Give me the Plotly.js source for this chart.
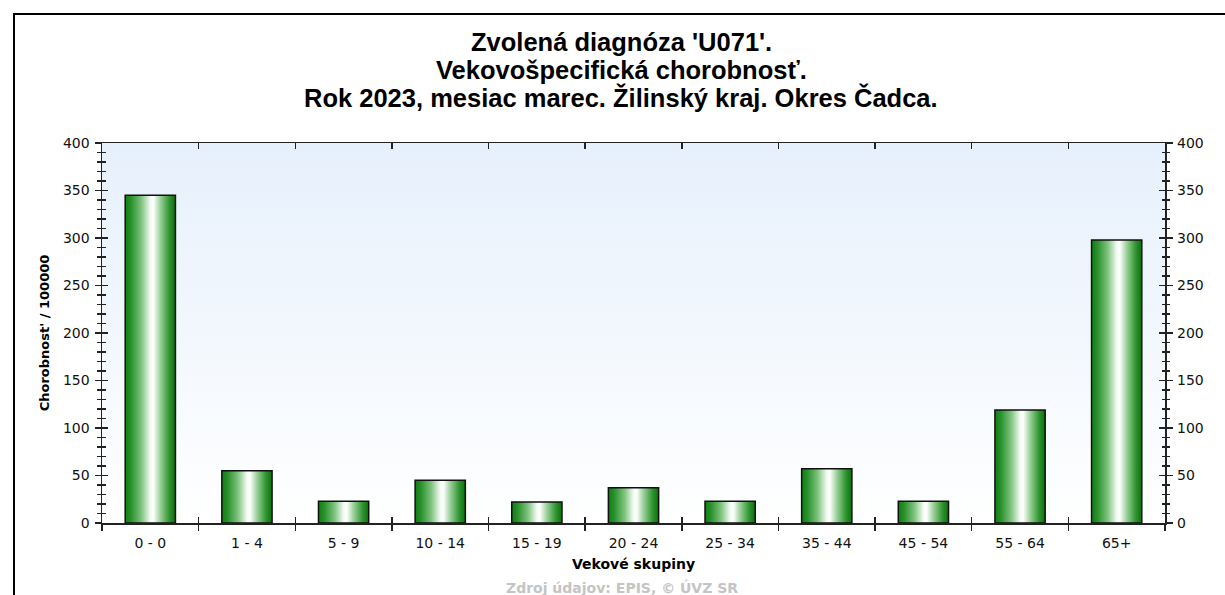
<!DOCTYPE html>
<html>
<head>
<meta charset="utf-8">
<script src="https://cdn.plot.ly/plotly-3.0.1.min.js"></script>
<style>
  html, body { margin: 0; padding: 0; background: #fff; }
  #wrap { position: relative; width: 1225px; height: 595px; overflow: hidden; }
  #frame { position: absolute; left: 13px; top: 13px; width: 1300px; height: 700px;
           border-left: 2px solid #000; border-top: 2px solid #000; pointer-events: none; z-index: 5; }
  #chart { position: absolute; left: 0; top: 0; width: 1225px; height: 595px; }
</style>
</head>
<body>
<div id="wrap">
  <div id="chart"></div>
  <div id="frame"></div>
</div>
<script>
const categories = ['0 - 0', '1 - 4', '5 - 9', '10 - 14', '15 - 19', '20 - 24', '25 - 34', '35 - 44', '45 - 54', '55 - 64', '65+'];
const values = [345, 55, 23, 45, 22, 37, 23, 57, 23, 119, 298];
const titleLines = ["Zvolená diagnóza 'U071'.", "Vekovošpecifická chorobnosť.", "Rok 2023, mesiac marec. Žilinský kraj. Okres Čadca."];
const yTitle = "Chorobnost' / 100000";
const xTitle = "Vekové skupiny";
const footer = "Zdroj údajov: EPIS, © ÚVZ SR";

const TFONT = 'Arial, "Liberation Sans", sans-serif';
const AFONT = '"DejaVu Sans", Verdana, sans-serif';
const AX = '#222';

const W = 1225, H = 595;
const M = { l: 102, r: 60, t: 143, b: 72 };
const plotH = H - M.t - M.b;
const plotW = W - M.l - M.r;
// pixel helpers for text placement (layout only)
const px2paperY = py => (H - M.b - py) / plotH;
const px2paperX = px => (px - M.l) / plotW;

const nCat = categories.length;
const boundaries = categories.slice(1).map((c, i) => i + 0.5);

const trace = {
  type: 'bar',
  x: categories,
  y: values,
  marker: { color: '#2a922a', line: { color: '#111', width: 1.5 } },
  hoverinfo: 'x+y',
  showlegend: false
};

const yCommon = {
  range: [0, 400],
  dtick: 50,
  showgrid: false,
  zeroline: false,
  fixedrange: true
};

const titleY = [42, 70, 98];
const annotations = titleLines.map((t, i) => ({
  text: '<b>' + t + '</b>',
  xref: 'paper', yref: 'paper',
  x: px2paperX(621), y: px2paperY(titleY[i]),
  xanchor: 'center', yanchor: 'middle',
  showarrow: false,
  font: { family: TFONT, size: 25.5, color: '#000' }
}));
annotations.push({
  text: '<b>' + footer + '</b>',
  xref: 'paper', yref: 'paper',
  x: px2paperX(622), y: px2paperY(577),
  xanchor: 'center', yanchor: 'top',
  showarrow: false,
  font: { family: AFONT, size: 14, color: '#c4c4c4' }
});

const layout = {
  width: W,
  height: H,
  margin: M,
  paper_bgcolor: '#ffffff',
  plot_bgcolor: '#eef5fd',
  bargap: 0.48,
  showlegend: false,
  font: { family: AFONT, size: 14, color: '#111' },
  xaxis: {
    type: 'category',
    range: [-0.5, nCat - 0.5],
    tickson: 'boundaries',
    ticks: 'outside', ticklen: 6, tickwidth: 1.5, tickcolor: AX,
    showline: true, linecolor: AX, linewidth: 1.5, mirror: true,
    showgrid: false, zeroline: false,
    tickfont: { family: AFONT, size: 14, color: '#111' },
    ticklabelstandoff: 7,
    title: { text: '<b>' + xTitle + '</b>', font: { family: AFONT, size: 14, color: '#000' }, standoff: 9 },
    fixedrange: true
  },
  xaxis2: {
    type: 'linear', overlaying: 'x', anchor: 'y',
    range: [-0.5, nCat - 0.5],
    tickmode: 'array', tickvals: boundaries,
    ticks: 'inside', ticklen: 6, tickwidth: 1.5, tickcolor: AX,
    mirror: 'ticks', showline: false, showticklabels: false,
    showgrid: false, zeroline: false, fixedrange: true
  },
  yaxis: Object.assign({}, yCommon, {
    side: 'left',
    ticks: 'outside', ticklen: 6, tickwidth: 1.5, tickcolor: AX,
    minor: { dtick: 10, ticks: 'outside', ticklen: 3.5, tickwidth: 1.5, tickcolor: AX, showgrid: false },
    showline: true, linecolor: AX, linewidth: 1.5, mirror: 'ticks',
    tickfont: { family: AFONT, size: 14, color: '#111' },
    ticklabelstandoff: 2,
    title: { text: '<b>' + yTitle + '</b>', font: { family: AFONT, size: 13, color: '#000' }, standoff: 10 }
  }),
  yaxis3: Object.assign({}, yCommon, {
    overlaying: 'y', side: 'left', anchor: 'x',
    ticks: 'inside', ticklen: 6, tickwidth: 1.5, tickcolor: AX,
    minor: { dtick: 10, ticks: 'inside', ticklen: 3.5, tickwidth: 1.5, tickcolor: AX, showgrid: false },
    mirror: 'ticks', showline: false, showticklabels: false
  }),
  yaxis2: Object.assign({}, yCommon, {
    overlaying: 'y', side: 'right', anchor: 'x',
    ticks: '', showline: false,
    tickfont: { family: AFONT, size: 14, color: '#111' },
    ticklabelstandoff: 11
  }),
  annotations: annotations
};

// invisible helper traces (no markers) so the overlay axes render
const dummyX2 = { type: 'scatter', x: [0], y: [0], xaxis: 'x2', yaxis: 'y', mode: 'lines', hoverinfo: 'skip', showlegend: false };
const dummyY2 = { type: 'scatter', x: [categories[0]], y: [0], xaxis: 'x', yaxis: 'y2', mode: 'lines', hoverinfo: 'skip', showlegend: false };
const dummyY3 = { type: 'scatter', x: [categories[0]], y: [0], xaxis: 'x', yaxis: 'y3', mode: 'lines', hoverinfo: 'skip', showlegend: false };

function addGradients(gd) {
  const svg = gd.querySelector('svg.main-svg');
  if (!svg) return;
  const NS = 'http://www.w3.org/2000/svg';
  let defs = svg.querySelector('defs');
  if (!defs) { defs = document.createElementNS(NS, 'defs'); svg.insertBefore(defs, svg.firstChild); }
  function grad(id, horiz, stops) {
    const g = document.createElementNS(NS, 'linearGradient');
    g.setAttribute('id', id);
    g.setAttribute('x1', '0'); g.setAttribute('y1', '0');
    g.setAttribute('x2', horiz ? '1' : '0'); g.setAttribute('y2', horiz ? '0' : '1');
    stops.forEach(s => {
      const st = document.createElementNS(NS, 'stop');
      st.setAttribute('offset', s[0]);
      st.setAttribute('stop-color', s[1]);
      g.appendChild(st);
    });
    defs.appendChild(g);
  }
  grad('barGrad', true, [
    ['0', '#0f7d12'], ['0.12', '#2a922c'], ['0.32', '#7fc27f'], ['0.5', '#f2fbf2'],
    ['0.56', '#ffffff'], ['0.7', '#9ad09a'], ['0.88', '#2f942f'], ['1', '#0a700a']
  ]);
  grad('bgGrad', false, [['0', '#e6f0fc'], ['1', '#ffffff']]);
  gd.querySelectorAll('.barlayer .point path').forEach(p => { p.style.fill = 'url(#barGrad)'; });
  gd.querySelectorAll('.bglayer rect.bg').forEach(r => { r.style.fill = 'url(#bgGrad)'; });
}

const gd = document.getElementById('chart');
Plotly.newPlot(gd, [trace, dummyX2, dummyY2, dummyY3], layout, { displayModeBar: false, staticPlot: true })
  .then(() => addGradients(gd));
</script>
</body>
</html>
